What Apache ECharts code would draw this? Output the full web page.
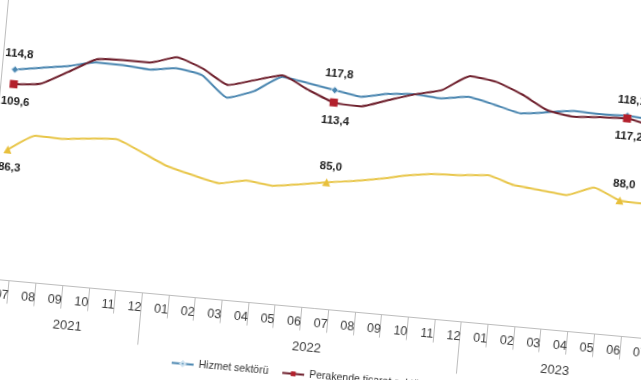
<!DOCTYPE html>
<html>
<head>
<meta charset="utf-8">
<script src="https://cdn.jsdelivr.net/npm/echarts@6/dist/echarts.min.js"></script>
<style>
html,body{margin:0;padding:0;background:#fff;width:641px;height:380px;overflow:hidden;}
#wrap{position:absolute;left:-40px;top:-40px;width:740px;height:480px;transform:rotate(5.2deg);transform-origin:360px 230px;}
</style>
</head>
<body>
<div id="wrap"></div>
<script>
// Categories (months 2021-07 .. 2023-07)
const months = ['07','08','09','10','11','12','01','02','03','04','05','06','07','08','09','10','11','12','01','02','03','04','05','06','07'];
const yearLabels = ['2021','2022','2023'];
const yearLabelAt = [3, 12, 21];
const yearStartAt = [0, 6, 18];

// Series values
const seriesNames = ['Hizmet sektörü','Perakende ticaret sektörü','İnşaat sektörü'];
const hizmet = [114.8,116.3,117.8,119.9,119.8,119.1,120.4,118.8,111.7,114.9,120.8,119.4,117.8,116.3,118.2,118.9,118.3,119.7,117.8,115.6,116.8,118.1,117.9,118.1,117.4];
const perakende = [109.6,110.6,115.7,121.0,121.6,121.6,124.3,121.2,116.2,118.8,121.3,117.1,113.4,112.9,115.9,118.9,121.3,127.1,125.9,122.3,117.5,116.1,116.8,117.2,115.2];
const insaat = [86.3,92.1,91.8,92.8,93.5,89.7,85.6,83.2,81.2,83.0,82.0,83.4,85.0,86.3,88.0,90.0,91.4,91.8,92.7,90.0,89.1,88.2,91.7,88.0,87.6];

// Labelled points
const markAt = [0, 12, 23];
const hizmetLabelPos = ['top','top','top'];
const perakendeLabelPos = ['bottom','bottom','bottom'];
const insaatLabelPos = ['bottom','top','top'];

const fmt = v => v.toFixed(1).replace('.', ',');

function build(vals, sym, size, posList) {
  return vals.map((v, i) => {
    const k = markAt.indexOf(i);
    if (k < 0) return {value: v, symbol: 'none'};
    const pos = posList[k];
    return {
      value: v, symbol: sym, symbolSize: size,
      label: {show: true, position: pos, distance: pos === 'top' ? 6 : 8, offset: [3, 0],
        formatter: p => fmt(p.value), color: '#222', fontSize: 11.5, fontWeight: 'bold',
        fontFamily: 'Liberation Sans, Arial, sans-serif'}
    };
  });
}

const chart = echarts.init(document.getElementById('wrap'), null, {renderer: 'canvas'});
const axisGray = '#bdbdbd';
chart.setOption({
  backgroundColor: '#fff',
  animation: false,
  grid: {left: 32, right: 40.5, top: 66.6, bottom: 131.4, containLabel: false},
  legend: {
    left: 222, top: 405, itemWidth: 22, itemHeight: 6, itemGap: 13,
    textStyle: {color: '#333', fontSize: 10.5, fontFamily: 'Liberation Sans, Arial, sans-serif'},
    data: seriesNames
  },
  xAxis: [
    {
      type: 'category', data: months, boundaryGap: true,
      axisLine: {show: true, lineStyle: {color: axisGray, width: 1}},
      axisTick: {show: true, interval: 0, length: 23, lineStyle: {color: axisGray}},
      axisLabel: {interval: 0, margin: 8, color: '#3a3a3a', fontSize: 12.5, padding: [0, 0, 0, 14],
        fontFamily: 'Liberation Sans, Arial, sans-serif'}
    },
    {
      type: 'category', data: months, boundaryGap: true, position: 'bottom',
      axisLine: {show: false},
      axisTick: {show: true, length: 52, interval: (i) => yearStartAt.indexOf(i) >= 0, lineStyle: {color: axisGray}},
      axisLabel: {interval: 0, margin: 33, color: '#3a3a3a', fontSize: 13,
        fontFamily: 'Liberation Sans, Arial, sans-serif',
        formatter: (v, i) => {
          const k = yearLabelAt.indexOf(i);
          if (k < 0) return '';
          return k === 2 ? '{r|' + yearLabels[k] + '}' : '{l|' + yearLabels[k] + '}';
        },
        rich: {
          l: {padding: [0, 10, 0, 0], color: '#3a3a3a', fontSize: 13, fontFamily: 'Liberation Sans, Arial, sans-serif'},
          r: {padding: [0, 0, 0, 8], color: '#3a3a3a', fontSize: 13, fontFamily: 'Liberation Sans, Arial, sans-serif'}
        }
      }
    }
  ],
  yAxis: {
    type: 'value', min: 40, max: 140, interval: 10,
    splitLine: {show: false},
    axisLine: {show: true, lineStyle: {color: axisGray}},
    axisTick: {show: false},
    axisLabel: {color: '#444', fontSize: 11}
  },
  series: [
    {
      name: seriesNames[0], type: 'line', xAxisIndex: 0, smooth: 0.15, showSymbol: true,
      symbol: 'diamond', symbolSize: 7,
      lineStyle: {color: '#4a86b0', width: 2},
      itemStyle: {color: '#4a86b0', borderColor: '#cfe3f0', borderWidth: 1},
      data: build(hizmet, 'diamond', 7, hizmetLabelPos), z: 3
    },
    {
      name: seriesNames[1], type: 'line', xAxisIndex: 0, smooth: 0.15, showSymbol: true,
      symbol: 'rect', symbolSize: 8,
      lineStyle: {color: '#6e1f2c', width: 2},
      itemStyle: {color: '#b3202c'},
      data: build(perakende, 'rect', 8, perakendeLabelPos), z: 4
    },
    {
      name: seriesNames[2], type: 'line', xAxisIndex: 0, smooth: 0.15, showSymbol: true,
      symbol: 'triangle', symbolSize: 8,
      lineStyle: {color: '#e8c64a', width: 2},
      itemStyle: {color: '#e8c03c'},
      data: build(insaat, 'triangle', 8, insaatLabelPos), z: 2
    }
  ]
});
</script>
</body>
</html>
